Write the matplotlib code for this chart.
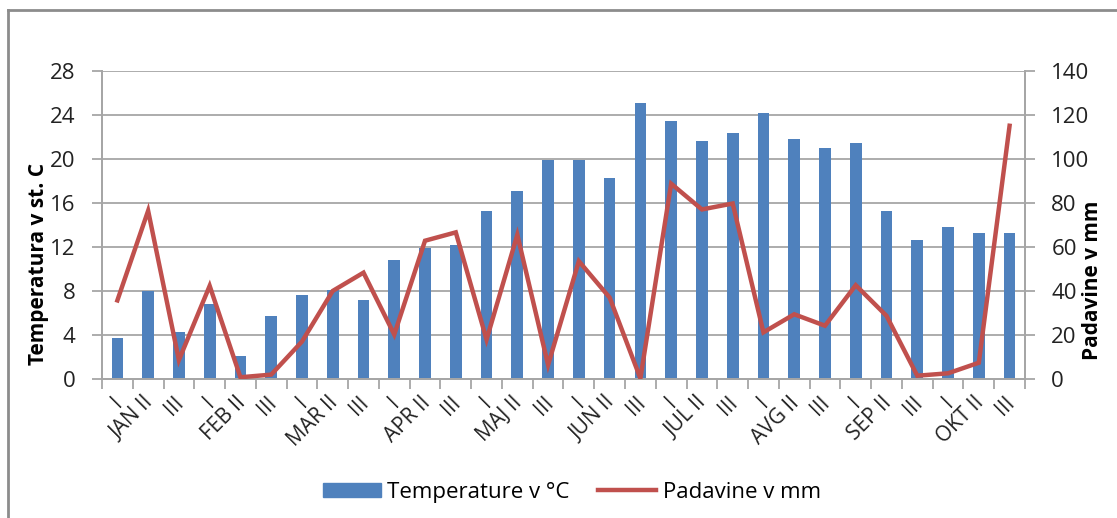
import matplotlib.pyplot as plt
import matplotlib.transforms as mtransforms
from matplotlib.lines import Line2D
from matplotlib.patches import Patch
import numpy as np

plt.rcParams['font.family'] = ['Open Sans', 'DejaVu Sans']

months = ["JAN", "FEB", "MAR", "APR", "MAJ", "JUN", "JUL", "AVG", "SEP", "OKT"]
labels = []
for m in months:
    labels += ["I", f"{m} II", "III"]

# mean dekad temperature (°C)
temperature = [3.7, 8.0, 4.3, 6.8, 2.1, 5.7, 7.6, 8.1, 7.2,
               10.8, 11.9, 12.2, 15.3, 17.1, 19.9, 19.9, 18.3, 25.1,
               23.4, 21.6, 22.3, 24.2, 21.8, 21.0, 21.4, 15.3, 12.6,
               13.8, 13.3, 13.3]
# dekad precipitation (mm)
precipitation = [35.7, 76.4, 8.6, 42.3, 0.8, 2.0, 17.0, 40.0, 48.3,
                 20.2, 62.8, 66.6, 17.9, 65.5, 6.4, 53.5, 37.0, 0.3,
                 88.7, 77.0, 79.7, 21.2, 29.4, 24.2, 42.6, 28.7, 1.5,
                 2.6, 7.4, 115.0]

blue = "#4F81BD"
red = "#C0504D"
grid = "#A6A6A6"

fig = plt.figure(figsize=(11.17, 5.18), dpi=100)
ax = fig.add_axes([0.0913, 0.2683, 0.8263, 0.5952])
ax2 = ax.twinx()

x = np.arange(len(labels))
ax.bar(x, temperature, width=0.38, color=blue, zorder=2)
ax2.plot(x, precipitation, color=red, lw=3.2, solid_joinstyle='miter', zorder=3)

ax.set_xlim(-0.5, len(labels) - 0.5)
ax.set_ylim(0, 28)
ax.set_yticks(np.arange(0, 29, 4))
ax2.set_ylim(0, 140)
ax2.set_yticks(np.arange(0, 141, 20))

ax.yaxis.grid(True, color=grid, lw=1.3, zorder=0)
ax.set_axisbelow(True)

for a in (ax, ax2):
    for s in a.spines.values():
        s.set_color(grid)
        s.set_linewidth(1.3)
    a.spines['top'].set_visible(False)
    a.tick_params(axis='y', direction='out', length=7, width=1.3, color=grid,
                  labelsize=16, labelcolor="#222222", pad=12)

# category boundaries get tick marks, labels sit at category centres
ax.set_xticks(x)
ax.set_xticks(np.arange(-0.5, len(labels), 1), minor=True)
ax.tick_params(axis='x', which='minor', direction='out', length=7, width=1.3, color=grid)
ax.tick_params(axis='x', which='major', length=0, pad=15)
ax.set_xticklabels(labels, rotation=45, ha='right', va='center',
                   rotation_mode='anchor', fontsize=15, color="#222222")
offset = mtransforms.ScaledTranslation(2 / 100, 0, fig.dpi_scale_trans)
for lbl in ax.get_xticklabels():
    lbl.set_transform(lbl.get_transform() + offset)

ax.set_ylabel("Temperatura v st. C", fontsize=15, fontweight='bold')
ax.yaxis.set_label_coords(-0.069, 0.373)
ax.yaxis.label.set_va('center')
ax2.set_ylabel("Padavine v mm", fontsize=15, fontweight='bold')
ax2.yaxis.set_label_coords(1.0737, 0.321)
ax2.yaxis.label.set_va('center')

handles = [Patch(color=blue), Line2D([], [], color=red, lw=3.2)]
fig.legend(handles, ["Temperature v °C", "Padavine v mm"], loc='center',
           bbox_to_anchor=(0.512, 0.05), ncol=2, frameon=False, fontsize=16,
           handlelength=2.6, handleheight=0.6, handletextpad=0.3, columnspacing=1.3)

# outer chart border (left and top edges)
fig.add_artist(Line2D([0.0072, 0.0072], [0, 0.981], color="#8C8C8C", lw=2))
fig.add_artist(Line2D([0.0072, 1], [0.981, 0.981], color="#8C8C8C", lw=2))

fig.savefig("out.png", dpi=100)
